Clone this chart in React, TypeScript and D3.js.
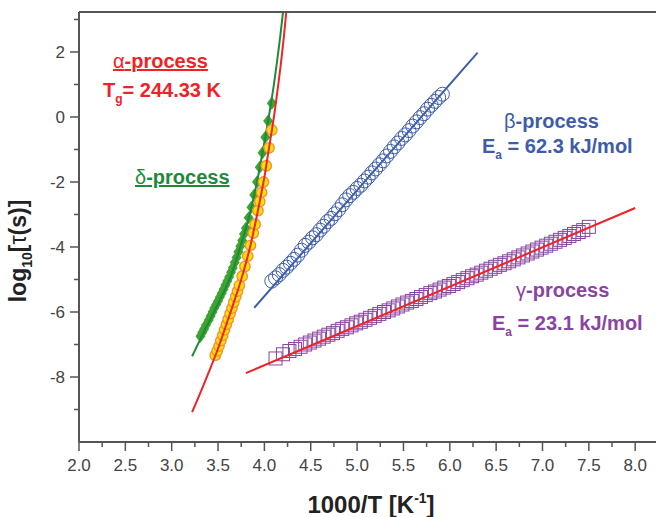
import React from "react";
import * as d3 from "d3";

const width = 656;
const height = 517;
const plot = { left: 79, right: 658, top: 12, bottom: 442 };
const font = "'Liberation Sans', Arial, sans-serif";

// tick labels
const xTicks = [2.0, 2.5, 3.0, 3.5, 4.0, 4.5, 5.0, 5.5, 6.0, 6.5, 7.0, 7.5, 8.0];
const xMinor = [2.25, 2.75, 3.25, 3.75, 4.25, 4.75, 5.25, 5.75, 6.25, 6.75, 7.25, 7.75];
const yTicks = [-8, -6, -4, -2, 0, 2];
const yMinor = [-9, -7, -5, -3, -1, 1, 3];

// alpha-process (yellow circles) and VFT fit
const alphaX = [3.47, 3.49, 3.51, 3.53, 3.55, 3.57, 3.59, 3.61, 3.63, 3.65, 3.67, 3.69, 3.71, 3.73, 3.76, 3.79, 3.82, 3.85, 3.88, 3.9, 3.93, 3.95, 3.97, 3.99, 4.02, 4.05, 4.08];
const alphaY = [-7.33, -7.2, -7.05, -6.88, -6.72, -6.55, -6.38, -6.22, -6.05, -5.88, -5.7, -5.53, -5.36, -5.18, -4.9, -4.6, -4.28, -3.95, -3.57, -3.3, -2.88, -2.6, -2.32, -2.0, -1.5, -0.95, -0.4];
const alphaFitX = [3.22, 3.3, 3.4, 3.49, 3.6, 3.7, 3.75, 3.8, 3.85, 3.9, 3.95, 4.0, 4.05, 4.1, 4.15, 4.2, 4.235, 4.26];
const alphaFitY = [-9.08, -8.55, -7.85, -7.2, -6.3, -5.45, -5.0, -4.5, -3.95, -3.3, -2.6, -1.85, -0.95, -0.05, 1.0, 2.2, 3.2, 4.0];

// delta-process (green diamonds) and fit
const deltaX = [3.31, 3.33, 3.35, 3.37, 3.4, 3.42, 3.44, 3.46, 3.48, 3.5, 3.52, 3.54, 3.56, 3.58, 3.6, 3.62, 3.64, 3.66, 3.68, 3.7, 3.72, 3.74, 3.76, 3.78, 3.8, 3.83, 3.86, 3.89, 3.92, 3.95, 3.98, 4.01, 4.04, 4.08];
const deltaY = [-6.75, -6.63, -6.52, -6.4, -6.25, -6.12, -6.0, -5.88, -5.77, -5.66, -5.54, -5.42, -5.3, -5.17, -5.05, -4.92, -4.78, -4.64, -4.48, -4.32, -4.15, -3.98, -3.8, -3.6, -3.42, -3.1, -2.78, -2.4, -2.0, -1.55, -1.1, -0.62, -0.12, 0.42];
const deltaFitX = [3.22, 3.35, 3.5, 3.63, 3.75, 3.85, 3.92, 3.98, 4.05, 4.1, 4.15, 4.2, 4.23];
const deltaFitY = [-7.36, -6.6, -5.75, -4.95, -3.9, -2.9, -2.0, -1.1, 0.05, 0.95, 2.0, 3.2, 4.0];

// beta-process (blue open circles), Arrhenius fit
const betaX = [4.08, 4.12, 4.16, 4.2, 4.24, 4.28, 4.32, 4.36, 4.4, 4.44, 4.48, 4.52, 4.56, 4.6, 4.64, 4.68, 4.72, 4.76, 4.8, 4.84, 4.88, 4.92, 4.96, 5.0, 5.04, 5.08, 5.12, 5.16, 5.2, 5.24, 5.28, 5.32, 5.36, 5.4, 5.44, 5.48, 5.52, 5.56, 5.6, 5.64, 5.68, 5.72, 5.76, 5.8, 5.84, 5.88, 5.92];
const betaY = [-5.05, -4.95, -4.85, -4.72, -4.62, -4.5, -4.38, -4.25, -4.1, -3.95, -3.85, -3.72, -3.62, -3.48, -3.36, -3.22, -3.12, -2.98, -2.85, -2.7, -2.55, -2.42, -2.32, -2.2, -2.1, -1.97, -1.85, -1.72, -1.6, -1.47, -1.35, -1.2, -1.06, -0.92, -0.8, -0.66, -0.55, -0.42, -0.28, -0.15, -0.02, 0.1, 0.24, 0.36, 0.48, 0.6, 0.7];
const betaFitX = [3.89, 6.3];
const betaFitY = [-5.87, 1.98];

// gamma-process (purple open squares), Arrhenius fit
const gammaX = [4.12, 4.2, 4.27, 4.33, 4.39, 4.44, 4.49, 4.54, 4.59, 4.64, 4.69, 4.74, 4.79, 4.84, 4.89, 4.94, 4.99, 5.04, 5.09, 5.14, 5.19, 5.24, 5.29, 5.34, 5.39, 5.44, 5.49, 5.54, 5.59, 5.64, 5.69, 5.74, 5.79, 5.84, 5.89, 5.94, 5.99, 6.04, 6.09, 6.14, 6.19, 6.24, 6.29, 6.34, 6.39, 6.44, 6.49, 6.54, 6.59, 6.64, 6.69, 6.74, 6.79, 6.84, 6.89, 6.94, 6.99, 7.04, 7.09, 7.14, 7.19, 7.24, 7.29, 7.34, 7.39, 7.44, 7.5];
const gammaY = [-7.43, -7.3, -7.2, -7.14, -7.07, -7.0, -6.94, -6.88, -6.82, -6.76, -6.7, -6.65, -6.58, -6.52, -6.47, -6.41, -6.35, -6.3, -6.24, -6.18, -6.12, -6.06, -6.0, -5.95, -5.89, -5.83, -5.77, -5.71, -5.66, -5.6, -5.54, -5.48, -5.42, -5.37, -5.31, -5.25, -5.2, -5.14, -5.08, -5.02, -4.96, -4.9, -4.85, -4.79, -4.73, -4.67, -4.61, -4.55, -4.5, -4.44, -4.38, -4.32, -4.26, -4.2, -4.14, -4.08, -4.02, -3.96, -3.9, -3.84, -3.78, -3.72, -3.66, -3.6, -3.54, -3.48, -3.38];
const gammaFitX = [3.8, 8.0];
const gammaFitY = [-7.88, -2.8];

const red = "#ee2328";
const green = "#1d8a3a";
const blue = "#3d5caa";
const purple = "#8a44a0";

const App = () => {
	const x = d3.scaleLinear().domain([2.0, 8.246]).range([plot.left, plot.right]);
	const y = d3.scaleLinear().domain([-10, 3.23]).range([plot.bottom, plot.top]);

	const line = d3
		.line<number[]>()
		.x((d) => x(d[0]))
		.y((d) => y(d[1]));
	const smooth = d3
		.line<number[]>()
		.x((d) => x(d[0]))
		.y((d) => y(d[1]))
		.curve(d3.curveCatmullRom);
	const zip = (a: number[], b: number[]) => a.map((v, i) => [v, b[i]]);

	// diamond marker glyph, a bit taller than wide
	const diamond = "M0,-6.5L5,0L0,6.5L-5,0Z";
	const sq = 13;

	return (
		<svg width={width} height={height} style={{ position: "absolute", left: 0, top: 0, background: "#fff" }} fontFamily={font}>
			<defs>
				<clipPath id="plotClip">
					<rect x={plot.left} y={plot.top} width={plot.right - plot.left} height={plot.bottom - plot.top} />
				</clipPath>
			</defs>

			<g clipPath="url(#plotClip)">
				{/* gamma squares + fit */}
				{gammaX.map((v, i) => (
					<rect key={"g" + i} x={x(v) - sq / 2} y={y(gammaY[i]) - sq / 2} width={sq} height={sq} fill="none" stroke={purple} strokeWidth={1} />
				))}
				<path d={line(zip(gammaFitX, gammaFitY))!} fill="none" stroke={red} strokeWidth={2} />

				{/* beta circles + fit */}
				{betaX.map((v, i) => (
					<circle key={"b" + i} cx={x(v)} cy={y(betaY[i])} r={7} fill="none" stroke={blue} strokeWidth={1} />
				))}
				<path d={line(zip(betaFitX, betaFitY))!} fill="none" stroke={blue} strokeWidth={2} />

				{/* delta diamonds + fit */}
				{deltaX.map((v, i) => (
					<path key={"d" + i} d={diamond} transform={`translate(${x(v)},${y(deltaY[i])})`} fill="#3fa332" />
				))}
				<path d={smooth(zip(deltaFitX, deltaFitY))!} fill="none" stroke={green} strokeWidth={2} />

				{/* alpha circles + fit */}
				{alphaX.map((v, i) => (
					<circle key={"a" + i} cx={x(v)} cy={y(alphaY[i])} r={5.2} fill="#ffe400" stroke="#f2903a" strokeWidth={1.4} />
				))}
				<path d={smooth(zip(alphaFitX, alphaFitY))!} fill="none" stroke={red} strokeWidth={2} />
			</g>

			{/* frame */}
			<line x1={plot.left} x2={plot.right} y1={plot.top} y2={plot.top} stroke="#555" strokeWidth={2} />
			<line x1={plot.left} x2={plot.left} y1={plot.top} y2={plot.bottom} stroke="#555" strokeWidth={2} />
			<line x1={plot.left} x2={plot.right} y1={plot.bottom} y2={plot.bottom} stroke="#555" strokeWidth={2} />

			{/* x axis ticks */}
			{xTicks.map((t) => (
				<g key={"xt" + t} transform={`translate(${x(t)},${plot.bottom})`}>
					<line y2={9} stroke="#555" strokeWidth={1.5} />
					<text y={29} textAnchor="middle" fontSize={17} fill="#444">
						{t.toFixed(1)}
					</text>
				</g>
			))}
			{xMinor.map((t) => (
				<line key={"xm" + t} x1={x(t)} x2={x(t)} y1={plot.bottom} y2={plot.bottom + 5} stroke="#555" strokeWidth={1.5} />
			))}

			{/* y axis ticks */}
			{yTicks.map((t) => (
				<g key={"yt" + t} transform={`translate(${plot.left},${y(t)})`}>
					<line x2={-9} stroke="#555" strokeWidth={1.5} />
					<text x={-14} dy="0.35em" textAnchor="end" fontSize={17} fill="#444">
						{t}
					</text>
				</g>
			))}
			{yMinor.map((t) => (
				<line key={"ym" + t} x1={plot.left} x2={plot.left - 5} y1={y(t)} y2={y(t)} stroke="#555" strokeWidth={1.5} />
			))}

			{/* axis titles */}
			<text x={371} y={513} textAnchor="middle" fontSize={24} fontWeight="bold" fill="#222">
				1000/T [K<tspan fontSize={14} dy={-10}>-1</tspan>
				<tspan dy={10}>]</tspan>
			</text>
			<text transform="translate(26,251) rotate(-90)" textAnchor="middle" fontSize={23} fontWeight="bold" fill="#222">
				log<tspan fontSize={14} dy={6}>10</tspan>
				<tspan dy={-6}>[</tspan>
				<tspan fontWeight="normal">τ</tspan>(s)]
			</text>

			{/* annotations */}
			<text x={113} y={68} fontSize={20} fontWeight="bold" fill={red} textDecoration="underline">
				<tspan fontWeight="normal">α</tspan>-process
			</text>
			<text x={103} y={97} fontSize={20} fontWeight="bold" fill={red}>
				T<tspan fontSize={12} dy={6}>g</tspan>
				<tspan dy={-6}>= 244.33 K</tspan>
			</text>
			<text x={135} y={184} fontSize={20} fontWeight="bold" fill={green} textDecoration="underline">
				<tspan fontWeight="normal">δ</tspan>-process
			</text>
			<text x={504} y={128} fontSize={20} fontWeight="bold" fill={blue}>
				<tspan fontWeight="normal">β</tspan>-process
			</text>
			<text x={482} y={153} fontSize={20} fontWeight="bold" fill={blue}>
				E<tspan fontSize={12} dy={6}>a</tspan>
				<tspan dy={-6}> = 62.3 kJ/mol</tspan>
			</text>
			<text x={516} y={297} fontSize={20} fontWeight="bold" fill={purple}>
				<tspan fontWeight="normal">γ</tspan>-process
			</text>
			<text x={492} y={330} fontSize={20} fontWeight="bold" fill={purple}>
				E<tspan fontSize={12} dy={6}>a</tspan>
				<tspan dy={-6}> = 23.1 kJ/mol</tspan>
			</text>
		</svg>
	);
};

export default App;
